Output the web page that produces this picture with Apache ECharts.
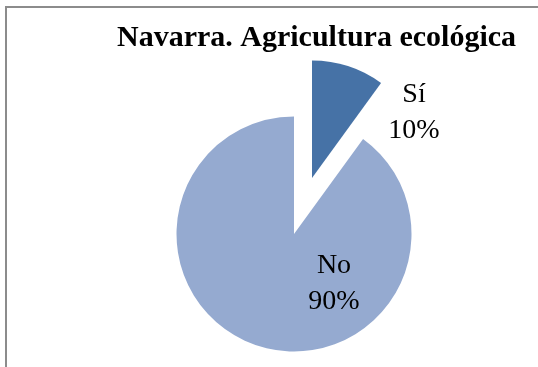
<!DOCTYPE html>
<html>
<head>
<meta charset="utf-8">
<script src="https://cdn.jsdelivr.net/npm/echarts@6/dist/echarts.min.js"></script>
<style>
html,body{margin:0;padding:0;background:#fff;}
#chart{width:538px;height:367px;}
</style>
</head>
<body>
<div id="chart"></div>
<script>
var titleText = 'Navarra. Agricultura ecológica';
var categories = ['Sí', 'No'];
var values = [10, 90];
var colors = ['#4672A6', '#95AAD0'];

var chart = echarts.init(document.getElementById('chart'), null, {renderer: 'canvas'});
var labelPos = [[414, 113], [334, 284]];
var center = [294, 234];
var explodeOffset = [18, -56];

function makeSeries(visibleIndex, c) {
  return {
    type: 'pie',
    center: c,
    radius: 117.5,
    startAngle: 90,
    clockwise: true,
    selectedMode: false,
    avoidLabelOverlap: false,
    labelLine: {show: false},
    emphasis: {disabled: true},
    silent: true,
    label: {
      show: true,
      position: 'inside',
      formatter: function (p) { return p.name + '\n' + Math.round(p.percent) + '%'; },
      fontFamily: 'Liberation Serif',
      fontSize: 28,
      lineHeight: 36,
      color: '#000',
      align: 'center',
      verticalAlign: 'middle'
    },
    labelLayout: function (params) {
      var pos = labelPos[params.dataIndex];
      return {x: pos[0], y: pos[1], align: 'center', verticalAlign: 'middle'};
    },
    data: categories.map(function (cat, i) {
      var vis = i === visibleIndex;
      return {
        name: cat,
        value: values[i],
        label: {show: vis},
        itemStyle: {color: vis ? colors[i] : 'rgba(0,0,0,0)', borderWidth: 0}
      };
    })
  };
}

chart.setOption({
  animation: false,
  backgroundColor: '#ffffff',
  title: {
    text: titleText,
    left: 117,
    top: 23,
    padding: 0,
    textStyle: {
      fontFamily: 'Liberation Serif',
      fontWeight: 'bold',
      fontSize: 30,
      color: '#000'
    }
  },
  graphic: [{
    type: 'rect',
    shape: {x: 6, y: 7, width: 700, height: 500},
    style: {fill: 'none', stroke: '#8c8c8c', lineWidth: 2},
    silent: true
  }],
  series: [
    makeSeries(1, center),
    makeSeries(0, [center[0] + explodeOffset[0], center[1] + explodeOffset[1]])
  ]
});
</script>
</body>
</html>
